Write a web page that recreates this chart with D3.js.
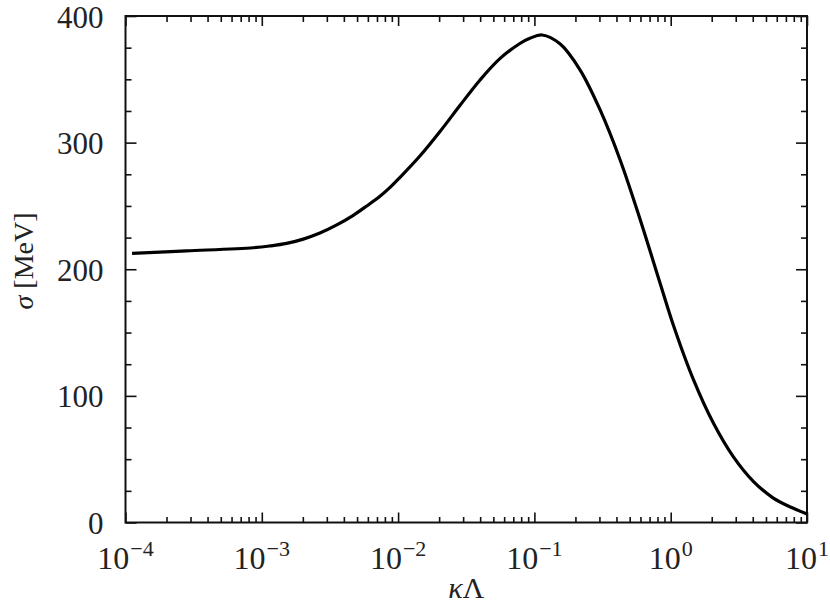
<!DOCTYPE html>
<html>
<head>
<meta charset="utf-8">
<script src="https://cdn.jsdelivr.net/npm/d3@7"></script>
<style>
  body { margin: 0; background: #fff; }
  text { font-family: "Liberation Serif", "DejaVu Serif", serif; fill: #222; }
</style>
</head>
<body>
<div id="chart"></div>
<script>
// values
const kappaLambda = [1.117e-4, 2.81e-4, 8.67e-4, 1.148e-3, 1.52e-3, 2.014e-3, 2.67e-3,
    3.548e-3, 4.69e-3, 5.89e-3, 7.36e-3, 8.73e-3,
    1.03e-2, 1.445e-2, 2.03e-2, 2.84e-2, 3.98e-2, 5.58e-2, 7.83e-2, 9.27e-2,
    0.114, 0.154, 0.216, 0.303, 0.425, 0.596, 0.836, 1.045, 1.466, 2.056,
    2.877, 4.036, 5.662, 7.943, 10];
const sigma = [212.6, 214.5, 217.0, 218.4, 220.4, 223.8, 228.6,
    235.0, 242.6, 250.0, 257.6, 264.6,
    272.4, 289.4, 308.8, 329.3, 349.3, 366.3, 378.3, 382.4,
    385.0, 378.0, 357.5, 326.0, 286.5, 239.5, 189.0, 156.0, 113.0, 78.5,
    52.0, 32.5, 19.3, 11.2, 6.7];

const xExponents = [-4, -3, -2, -1, 0, 1];
const yTicks = [0, 100, 200, 300, 400];

const W = 830, H = 605;
const margin = { top: 16, right: 23, bottom: 82.5, left: 125.5 };
const width = W - margin.left - margin.right,
      height = H - margin.top - margin.bottom;

const svg = d3.select("#chart").append("svg")
    .attr("width", W)
    .attr("height", H);

const g = svg.append("g")
    .attr("transform", "translate(" + margin.left + "," + margin.top + ")");

const x = d3.scaleLog().domain([1e-4, 10]).range([0, width]);
const y = d3.scaleLinear().domain([0, 400]).range([height, 0]);

// minor tick values
const xMajor = xExponents.map(e => Math.pow(10, e));
const xMinor = [];
xExponents.slice(0, -1).forEach(e => {
    for (let k = 2; k <= 9; k++) xMinor.push(k * Math.pow(10, e));
});
const yMinor = d3.range(0, 401, 25).filter(v => v % 100 !== 0);

function styleAxis(sel) {
    sel.select(".domain").remove();
    sel.selectAll(".tick line").attr("stroke", "#111").attr("stroke-width", 1.6);
    sel.selectAll(".tick text").remove();
}

// bottom / top
g.append("g").attr("transform", "translate(0," + height + ")")
    .call(d3.axisBottom(x).tickValues(xMajor).tickSize(-10)).call(styleAxis);
g.append("g").attr("transform", "translate(0," + height + ")")
    .call(d3.axisBottom(x).tickValues(xMinor).tickSize(-5.5)).call(styleAxis);
g.append("g")
    .call(d3.axisTop(x).tickValues(xMajor).tickSize(-10)).call(styleAxis);
g.append("g")
    .call(d3.axisTop(x).tickValues(xMinor).tickSize(-6)).call(styleAxis);

// left / right
g.append("g")
    .call(d3.axisLeft(y).tickValues(yTicks).tickSize(-11)).call(styleAxis);
g.append("g")
    .call(d3.axisLeft(y).tickValues(yMinor).tickSize(-6)).call(styleAxis);
g.append("g").attr("transform", "translate(" + width + ",0)")
    .call(d3.axisRight(y).tickValues(yTicks).tickSize(-11)).call(styleAxis);
g.append("g").attr("transform", "translate(" + width + ",0)")
    .call(d3.axisRight(y).tickValues(yMinor).tickSize(-6)).call(styleAxis);

// frame
g.append("rect")
    .attr("width", width)
    .attr("height", height)
    .attr("fill", "none")
    .attr("stroke", "#111")
    .attr("stroke-width", 2);

// y tick labels
g.selectAll(".ylab")
    .data(yTicks)
    .enter().append("text")
    .attr("class", "ylab")
    .attr("x", -22)
    .attr("y", d => y(d) + 11.5)
    .attr("text-anchor", "end")
    .attr("font-size", 31)
    .text(d => d);

// x tick labels 10^n
const xl = g.selectAll(".xlab")
    .data(xExponents)
    .enter().append("text")
    .attr("class", "xlab")
    .attr("x", d => x(Math.pow(10, d)))
    .attr("y", height + 46.5)
    .attr("text-anchor", "middle")
    .attr("font-size", 32);
xl.append("tspan").text("10");
xl.append("tspan")
    .attr("dy", -13)
    .attr("font-size", 22)
    .attr("dx", 1)
    .text(d => (d < 0 ? "\u2212" : "") + Math.abs(d));

// axis labels
g.append("text")
    .attr("x", width / 2)
    .attr("y", height + 75.5)
    .attr("text-anchor", "middle")
    .attr("font-size", 30)
    .html('<tspan font-style="italic">\u03BA</tspan>\u039B');

g.append("text")
    .attr("transform", "translate(" + (33 - margin.left) + "," + (261 - margin.top) + ") rotate(-90)")
    .attr("text-anchor", "middle")
    .attr("font-size", 28)
    .html('<tspan font-style="italic">\u03C3</tspan> [MeV]');

// curve
const line = d3.line()
    .x(d => x(d[0]))
    .y(d => y(d[1]))
    .curve(d3.curveCatmullRom);

g.append("path")
    .datum(kappaLambda.map((k, i) => [k, sigma[i]]))
    .attr("fill", "none")
    .attr("stroke", "#000")
    .attr("stroke-width", 3.2)
    .attr("d", line);
</script>
</body>
</html>
